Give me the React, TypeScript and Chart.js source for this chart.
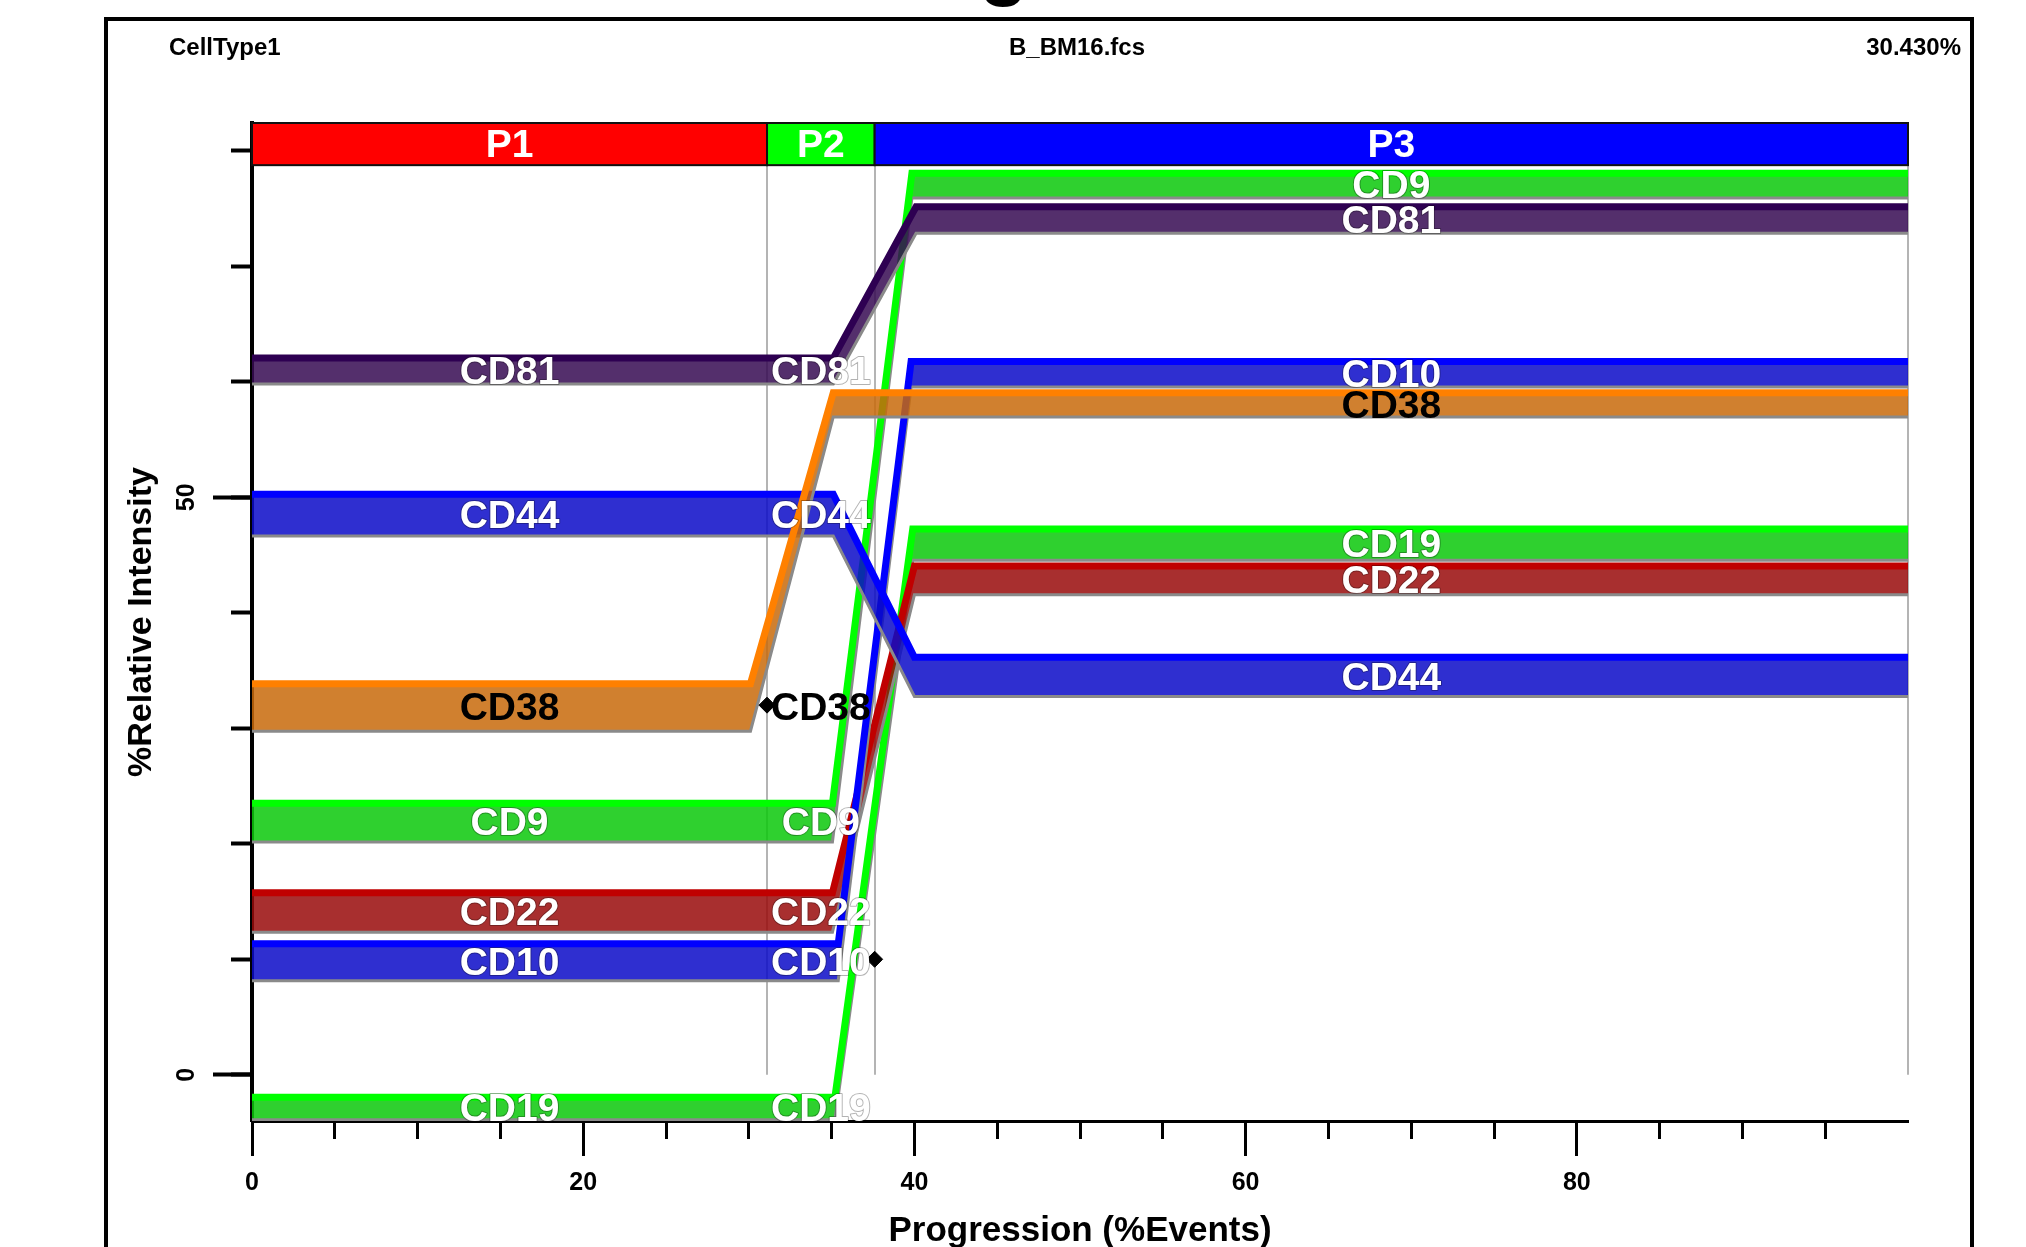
import React, { useEffect, useRef } from 'react';
import { Chart, registerables } from 'chart.js';

Chart.register(...registerables);

const FONT = "'Liberation Sans', Arial, sans-serif";

// ---- data ----
const markers = ['CD81', 'CD44', 'CD38', 'CD9', 'CD22', 'CD10', 'CD19'];
// band edges (upper / lower) in the first phase (P1) and the last phase (P3)
const p1Top = [62.05, 50.25, 33.85, 23.5, 15.75, 11.35, -1.95];
const p1Bottom = [59.8, 46.65, 29.75, 20.15, 12.35, 8.15, -3.9];
const p3Top = [75.15, 36.15, 59.05, 78.05, 44.05, 61.75, 47.25];
const p3Bottom = [72.85, 32.75, 56.95, 75.9, 41.55, 59.55, 44.55];
// where each marker starts and finishes its transition (%Events)
const rampStart = [35.1, 35.1, 30.1, 35.05, 35.05, 35.4, 35.2];
const rampEnd = [40.1, 40.0, 35.1, 39.85, 40.0, 39.8, 39.9];

const edgeColors = ['#2E0052', '#0000FF', '#FF8000', '#00FF00', '#C00000', '#0000FF', '#00FF00'];
const bandColors = [
  'rgba(54,11,82,0.85)',
  'rgba(11,11,200,0.85)',
  'rgba(200,106,11,0.85)',
  'rgba(11,200,11,0.85)',
  'rgba(153,11,11,0.85)',
  'rgba(11,11,200,0.85)',
  'rgba(11,200,11,0.85)',
];
const labelColors = ['#FFFFFF', '#FFFFFF', '#000000', '#FFFFFF', '#FFFFFF', '#FFFFFF', '#FFFFFF'];
const drawRank = [2, 1, 0, 5, 4, 3, 6]; // 0 = drawn on top

const phaseNames = ['P1', 'P2', 'P3'];
const phaseBounds = [0, 31.1, 37.6, 100];
const phaseColors = ['#FF0000', '#00FF00', '#0000FF'];
const phaseStrip = [78.75, 82.4];

const diamondX = [31.1, 37.6];
const diamondY = [32.0, 10.0];

const xRange = [0, 100];
const yRange = [-4, 82.4];
const xMajorTicks = [0, 20, 40, 60, 80];
const xMinorTicks = [0, 5, 10, 15, 20, 25, 30, 35, 40, 45, 50, 55, 60, 65, 70, 75, 80, 85, 90, 95];
const yMajorTicks = [0, 50];
const yMinorTicks = [0, 10, 20, 30, 40, 50, 60, 70, 80];

const headerLeft = 'CellType1';
const headerCenter = 'B_BM16.fcs';
const headerRight = '30.430%';
const xTitle = 'Progression (%Events)';
const yTitle = '%Relative Intensity';

const overlayPlugin = {
  id: 'overlay',
  beforeDatasetsDraw(chart: any) {
    const { ctx, scales } = chart;
    const x = scales.x;
    const y = scales.y;
    ctx.save();
    ctx.strokeStyle = '#B4B4B4';
    ctx.lineWidth = 2;
    for (let i = 1; i < phaseBounds.length; i++) {
      const px = Math.round(x.getPixelForValue(phaseBounds[i]));
      ctx.beginPath();
      ctx.moveTo(px, y.getPixelForValue(phaseStrip[0]));
      ctx.lineTo(px, y.getPixelForValue(0));
      ctx.stroke();
    }
    ctx.restore();
  },
  afterDatasetsDraw(chart: any) {
    const { ctx, scales } = chart;
    const x = scales.x;
    const y = scales.y;
    ctx.save();
    // phase strip
    const yt = y.getPixelForValue(phaseStrip[1]);
    const yb = y.getPixelForValue(phaseStrip[0]);
    for (let i = 0; i < phaseNames.length; i++) {
      const x0 = x.getPixelForValue(phaseBounds[i]);
      const x1 = x.getPixelForValue(phaseBounds[i + 1]);
      ctx.fillStyle = phaseColors[i];
      ctx.fillRect(x0, yt, x1 - x0, yb - yt);
      ctx.strokeStyle = '#111';
      ctx.lineWidth = 2;
      ctx.strokeRect(x0, yt, x1 - x0, yb - yt);
      ctx.fillStyle = '#FFFFFF';
      ctx.font = `bold 39px ${FONT}`;
      ctx.textAlign = 'center';
      ctx.textBaseline = 'middle';
      ctx.fillText(phaseNames[i], (x0 + x1) / 2, (yt + yb) / 2 + 2);
    }
    // marker labels
    ctx.font = `bold 39px ${FONT}`;
    ctx.textAlign = 'center';
    ctx.textBaseline = 'middle';
    ctx.lineJoin = 'round';
    const centers = phaseNames.map((_, i) => x.getPixelForValue((phaseBounds[i] + phaseBounds[i + 1]) / 2));
    for (let i = 0; i < markers.length; i++) {
      const y1 = y.getPixelForValue((p1Top[i] + p1Bottom[i]) / 2) + 2;
      const y3 = y.getPixelForValue((p3Top[i] + p3Bottom[i]) / 2) + 2;
      const spots = [
        [centers[0], y1],
        [centers[1], y1],
        [centers[2], y3],
      ];
      for (const [px, py] of spots) {
        if (labelColors[i] === '#FFFFFF') {
          ctx.strokeStyle = 'rgba(0,0,0,0.3)';
          ctx.lineWidth = 2;
          ctx.strokeText(markers[i], px, py);
        }
        ctx.fillStyle = labelColors[i];
        ctx.fillText(markers[i], px, py);
      }
    }
    ctx.restore();
  },
  afterDraw(chart: any) {
    const { ctx } = chart;
    ctx.save();
    ctx.fillStyle = '#000';
    ctx.font = `bold 24px ${FONT}`;
    ctx.textBaseline = 'middle';
    ctx.textAlign = 'left';
    ctx.fillText(headerLeft, 169, 48);
    ctx.textAlign = 'center';
    ctx.fillText(headerCenter, 1077, 48);
    ctx.textAlign = 'right';
    ctx.fillText(headerRight, 1961, 48);
    // bottom of the (cut-off) page title
    ctx.font = `bold 80px ${FONT}`;
    ctx.textAlign = 'center';
    ctx.textBaseline = 'alphabetic';
    ctx.fillText('g', 1004, -10);
    ctx.restore();
  },
};

export default function App() {
  const canvasRef = useRef<HTMLCanvasElement | null>(null);

  useEffect(() => {
    const canvas = canvasRef.current;
    if (!canvas) return;

    const datasets: any[] = [];
    markers.forEach((m, i) => {
      const xs = [xRange[0], rampStart[i], rampEnd[i], xRange[1]];
      const up = [p1Top[i], p1Top[i], p3Top[i], p3Top[i]];
      const lo = [p1Bottom[i], p1Bottom[i], p3Bottom[i], p3Bottom[i]];
      datasets.push({
        label: m,
        data: xs.map((v, k) => ({ x: v, y: up[k] })),
        borderColor: edgeColors[i],
        borderWidth: 7,
        pointRadius: 0,
        tension: 0,
        fill: false,
        order: drawRank[i] * 2 + 1,
      });
      datasets.push({
        label: m + ' lower',
        data: xs.map((v, k) => ({ x: v, y: lo[k] })),
        borderColor: '#8A8A8A',
        borderWidth: 3,
        pointRadius: 0,
        tension: 0,
        fill: '-1',
        backgroundColor: bandColors[i],
        order: drawRank[i] * 2 + 2,
      });
    });
    datasets.push({
      label: 'points',
      data: diamondX.map((v, k) => ({ x: v, y: diamondY[k] })),
      showLine: false,
      pointStyle: 'rectRot',
      pointRadius: 8,
      pointBackgroundColor: '#000',
      pointBorderColor: '#000',
      order: 0,
    });

    const tickFont = { family: FONT, weight: 'bold', size: 25 };

    const chart = new Chart(canvas, {
      type: 'line',
      data: { datasets },
      options: {
        responsive: false,
        animation: false,
        devicePixelRatio: 1,
        events: [],
        layout: { padding: { top: 123, right: 118, bottom: 0, left: 110 } },
        plugins: {
          legend: { display: false },
          tooltip: { enabled: false },
          title: { display: false },
        },
        scales: {
          x: {
            type: 'linear',
            position: 'bottom',
            weight: 1,
            min: xRange[0],
            max: xRange[1],
            bounds: 'data',
            afterBuildTicks: (s: any) => {
              s.ticks = xMajorTicks.map((v) => ({ value: v }));
            },
            afterFit: (s: any) => {
              s.height = 126;
            },
            grid: { drawOnChartArea: false, drawTicks: true, tickLength: 35, tickWidth: 3, tickColor: '#000' },
            border: { display: true, color: '#000', width: 3 },
            ticks: {
              color: '#000',
              font: tickFont,
              padding: 12,
              maxRotation: 0,
              autoSkip: false,
            },
            title: {
              display: true,
              text: xTitle,
              color: '#000',
              font: { family: FONT, weight: 'bold', size: 35, lineHeight: 0.92 },
              padding: { top: 0, bottom: 0 },
            },
          },
          x2: {
            type: 'linear',
            position: 'bottom',
            weight: 0,
            min: xRange[0],
            max: xRange[1],
            bounds: 'data',
            afterBuildTicks: (s: any) => {
              s.ticks = xMinorTicks.map((v) => ({ value: v }));
            },
            afterFit: (s: any) => {
              s.height = 0;
            },
            grid: { drawOnChartArea: false, drawTicks: true, tickLength: 18, tickWidth: 3, tickColor: '#000' },
            border: { display: false },
            ticks: { display: false },
          },
          y: {
            type: 'linear',
            position: 'left',
            weight: 1,
            min: yRange[0],
            max: yRange[1],
            bounds: 'data',
            afterBuildTicks: (s: any) => {
              s.ticks = yMajorTicks.map((v) => ({ value: v }));
            },
            afterFit: (s: any) => {
              s.width = 142;
            },
            grid: { drawOnChartArea: false, drawTicks: true, tickLength: 39, tickWidth: 4, tickColor: '#000' },
            border: { display: true, color: '#000', width: 4 },
            ticks: {
              color: '#000',
              font: tickFont,
              padding: 12,
              minRotation: 90,
              maxRotation: 90,
              crossAlign: 'center',
              autoSkip: false,
            },
            title: {
              display: true,
              text: yTitle,
              color: '#000',
              font: { family: FONT, weight: 'bold', size: 34, lineHeight: 1 },
              padding: { top: 15, bottom: 0 },
            },
          },
          y2: {
            type: 'linear',
            position: 'left',
            weight: 0,
            min: yRange[0],
            max: yRange[1],
            bounds: 'data',
            afterBuildTicks: (s: any) => {
              s.ticks = yMinorTicks.map((v) => ({ value: v }));
            },
            afterFit: (s: any) => {
              s.width = 0;
            },
            grid: { drawOnChartArea: false, drawTicks: true, tickLength: 21, tickWidth: 4, tickColor: '#000' },
            border: { display: false },
            ticks: { display: false },
          },
        },
      } as any,
      plugins: [overlayPlugin],
    });

    return () => {
      chart.destroy();
    };
  }, []);

  return (
    <div
      style={{
        position: 'fixed',
        left: 0,
        top: 0,
        width: 2026,
        height: 1247,
        overflow: 'hidden',
        background: '#FFFFFF',
      }}
    >
      <div
        style={{
          position: 'absolute',
          left: 104,
          top: 17,
          width: 1870,
          height: 1400,
          border: '4px solid #000',
          boxSizing: 'border-box',
        }}
      />
      <canvas
        ref={canvasRef}
        width={2026}
        height={1247}
        style={{ position: 'absolute', left: 0, top: 0, width: 2026, height: 1247, display: 'block' }}
      />
    </div>
  );
}
